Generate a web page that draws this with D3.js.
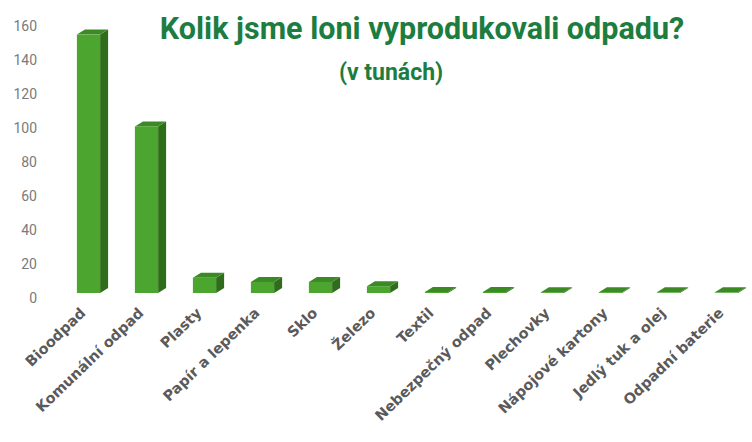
<!DOCTYPE html>
<html>
<head>
<meta charset="utf-8">
<script src="https://cdn.jsdelivr.net/npm/d3@7"></script>
<style>
  body { margin: 0; background: #fff; }
  svg { display: block; }
</style>
</head>
<body>
<div id="chart"></div>
<script>
// data (tuny)
var categories = ["Bioodpad", "Komunální odpad", "Plasty", "Papír  a lepenka", "Sklo", "Železo",
  "Textil", "Nebezpečný odpad", "Plechovky", "Nápojové kartony", "Jedlý tuk a olej", "Odpadní baterie"];
var values = [152, 98, 9, 6.5, 6.5, 4, 0.6, 0.6, 0.5, 0.5, 0.4, 0.4];
var yTicks = [0, 20, 40, 60, 80, 100, 120, 140, 160];

var width = 752, height = 442;
var depthX = 8, depthY = 5;

var svg = d3.select("#chart").append("svg")
  .attr("width", width)
  .attr("height", height);

var x = d3.scaleBand()
  .domain(categories)
  .range([59.5, 755.5])
  .paddingInner(0.6)
  .paddingOuter(0.3);

var y = d3.scaleLinear()
  .domain([0, 160])
  .range([293, 21]);

// y axis labels (no line, no ticks)
var yAxis = d3.axisLeft(y).tickValues(yTicks).tickSize(0).tickPadding(0);
var yAxisGroup = svg.append("g")
  .attr("transform", "translate(37, 5)")
  .call(yAxis);
yAxisGroup.select(".domain").remove();
yAxisGroup.selectAll("text")
  .attr("font-family", "Roboto, sans-serif")
  .attr("font-size", "14px")
  .attr("fill", "#7a7a7a");

// 3d bars
var bars = svg.append("g").selectAll("g.bar")
  .data(categories)
  .enter()
  .append("g")
  .attr("class", "bar");

function pts(a) { return a.map(p => p.join(",")).join(" "); }

bars.append("polygon")   // side
  .attr("points", (d, i) => {
    var x0 = x(d) + x.bandwidth(), yt = y(values[i]), yb = y(0);
    return pts([[x0, yt], [x0 + depthX, yt - depthY], [x0 + depthX, yb - depthY], [x0, yb]]);
  })
  .attr("fill", "#2f6d1c");

bars.append("polygon")   // top
  .attr("points", (d, i) => {
    var x0 = x(d), x1 = x0 + x.bandwidth(), yt = y(values[i]);
    return pts([[x0, yt], [x1, yt], [x1 + depthX, yt - depthY], [x0 + depthX, yt - depthY]]);
  })
  .attr("fill", "#3c8a25");

bars.append("rect")      // front
  .attr("x", d => x(d))
  .attr("y", (d, i) => y(values[i]))
  .attr("width", x.bandwidth())
  .attr("height", (d, i) => y(0) - y(values[i]))
  .attr("fill", "#4ba52f");

// category labels
svg.append("g").selectAll("text")
  .data(categories)
  .enter()
  .append("text")
  .attr("transform", d => "translate(" + (x(d) + x.bandwidth() / 2 - 2) + ", 314) rotate(-44)")
  .attr("text-anchor", "end")
  .attr("font-family", "'DejaVu Sans', sans-serif")
  .attr("font-weight", "bold")
  .attr("font-size", "14.5px")
  .attr("fill", "#5a5a5a")
  .text(d => d);

// title
svg.append("text")
  .attr("x", 422)
  .attr("y", 39)
  .attr("text-anchor", "middle")
  .attr("font-family", "Roboto, sans-serif")
  .attr("font-weight", "bold")
  .attr("font-size", "30.5px")
  .attr("fill", "#1d7d40")
  .text("Kolik jsme loni vyprodukovali odpadu?");

svg.append("text")
  .attr("x", 391)
  .attr("y", 80)
  .attr("text-anchor", "middle")
  .attr("font-family", "Roboto, sans-serif")
  .attr("font-weight", "bold")
  .attr("font-size", "23px")
  .attr("fill", "#1d7d40")
  .text("(v tunách)");
</script>
</body>
</html>
